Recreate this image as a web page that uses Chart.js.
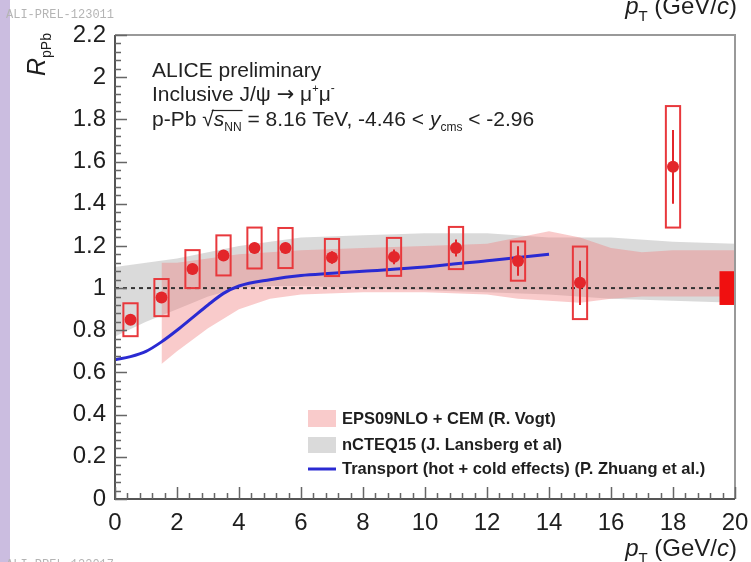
<!DOCTYPE html>
<html>
<head>
<meta charset="utf-8">
<script src="https://cdn.jsdelivr.net/npm/chart.js@4.4.1/dist/chart.umd.min.js"></script>
<style>
  html, body { margin:0; padding:0; background:#fff; }
  canvas { display:block; }
</style>
</head>
<body>
<canvas id="chart" width="751" height="562"></canvas>
<script>
// J/psi R_pPb vs pT, p-Pb 8.16 TeV, backward rapidity
const ptBins   = [0.5, 1.5, 2.5, 3.5, 4.5, 5.5, 7, 9, 11, 13, 15, 18];
const rpPb     = [0.85, 0.955, 1.09, 1.155, 1.19, 1.19, 1.145, 1.148, 1.19, 1.128, 1.025, 1.575];
const statErr  = [0.025, 0.025, 0.025, 0.025, 0.025, 0.025, 0.03, 0.035, 0.04, 0.07, 0.105, 0.175];
const sysErr   = [0.078, 0.088, 0.09, 0.095, 0.097, 0.095, 0.088, 0.09, 0.1, 0.093, 0.172, 0.288];
const globalSys = 0.08;

// EPS09NLO + CEM band
const epsPt   = [1.5, 2, 3, 4, 5, 6, 8, 10, 12, 13, 14, 15, 16, 17, 18, 20];
const epsHigh = [1.12, 1.12, 1.14, 1.16, 1.17, 1.18, 1.19, 1.2, 1.21, 1.24, 1.27, 1.24, 1.19, 1.17, 1.18, 1.18];
const epsLow  = [0.64, 0.7, 0.81, 0.9, 0.95, 0.97, 0.98, 0.98, 0.97, 0.95, 0.94, 0.93, 0.95, 0.96, 0.96, 0.96];

// nCTEQ15 band
const ncteqPt   = [0, 1, 2, 3, 4, 5, 6, 8, 10, 12, 14, 16, 18, 20];
const ncteqHigh = [1.1, 1.12, 1.14, 1.17, 1.2, 1.22, 1.24, 1.25, 1.26, 1.26, 1.24, 1.24, 1.22, 1.21];
const ncteqLow  = [0.77, 0.84, 0.9, 0.96, 1.0, 1.01, 1.01, 1.0, 0.99, 0.98, 0.97, 0.95, 0.94, 0.93];

// transport model
const transportPt = [0, 0.5, 1, 1.5, 2, 2.5, 3, 3.5, 4, 5, 6, 7, 8, 10, 12, 14];
const transportR  = [0.66, 0.675, 0.7, 0.745, 0.8, 0.86, 0.92, 0.975, 1.01, 1.04, 1.06, 1.07, 1.08, 1.1, 1.13, 1.16];

const legendLabels = ["EPS09NLO + CEM (R. Vogt)", "nCTEQ15 (J. Lansberg et al)", "Transport (hot + cold effects) (P. Zhuang et al.)"];

const FF = '"Liberation Sans", Arial, Helvetica, sans-serif';
const RED = "#e3262b";
const PINK = "rgba(240,125,125,0.4)";
const GRAY = "rgba(205,205,205,0.75)";
const BLUE = "#2a2ad2";

const pts = (xs, ys) => xs.map((x, i) => ({ x, y: ys[i] }));

// draw a row of text pieces with different fonts / offsets
function runs(ctx, x, y, parts) {
  for (const p of parts) {
    ctx.font = p.f;
    ctx.fillText(p.t, x, y + (p.dy || 0));
    x += ctx.measureText(p.t).width;
  }
  return x;
}
function runsWidth(ctx, parts) {
  let w = 0;
  for (const p of parts) { ctx.font = p.f; w += ctx.measureText(p.t).width; }
  return w;
}

function xTitleParts() {
  return [
    { t: "p", f: `italic 24px ${FF}` },
    { t: "T", f: `15px ${FF}`, dy: 7 },
    { t: " (GeV/", f: `24px ${FF}` },
    { t: "c", f: `italic 24px ${FF}` },
    { t: ")", f: `24px ${FF}` }
  ];
}

const rootStyle = {
  id: "rootStyle",
  beforeDraw(chart) {
    const ctx = chart.ctx;
    ctx.save();
    ctx.fillStyle = "#fff";
    ctx.fillRect(0, 0, chart.width, chart.height);
    ctx.fillStyle = "#cbbde0";
    ctx.fillRect(0, 0, 10, chart.height);
    ctx.restore();
  },
  afterDatasetsDraw(chart) {
    const ctx = chart.ctx, xs = chart.scales.x, ys = chart.scales.y;
    const hw = 0.23;
    ctx.save();
    // statistical bars
    ctx.strokeStyle = RED;
    ctx.lineWidth = 2;
    ptBins.forEach((pt, i) => {
      const px = xs.getPixelForValue(pt);
      ctx.beginPath();
      ctx.moveTo(px, ys.getPixelForValue(rpPb[i] + statErr[i]));
      ctx.lineTo(px, ys.getPixelForValue(rpPb[i] - statErr[i]));
      ctx.stroke();
    });
    // systematic boxes
    ctx.strokeStyle = "#e8383c";
    ptBins.forEach((pt, i) => {
      const x0 = xs.getPixelForValue(pt - hw), x1 = xs.getPixelForValue(pt + hw);
      const y0 = ys.getPixelForValue(rpPb[i] + sysErr[i]), y1 = ys.getPixelForValue(rpPb[i] - sysErr[i]);
      ctx.strokeRect(x0, y0, x1 - x0, y1 - y0);
    });
    // global uncertainty box
    ctx.fillStyle = "#f01010";
    const gx0 = xs.getPixelForValue(19.5), gx1 = xs.getPixelForValue(20);
    const gy0 = ys.getPixelForValue(1 + globalSys), gy1 = ys.getPixelForValue(1 - globalSys);
    ctx.fillRect(gx0, gy0, gx1 - gx0, gy1 - gy0);
    ctx.restore();
  },
  afterDraw(chart) {
    const ctx = chart.ctx, xs = chart.scales.x, ys = chart.scales.y;
    const a = chart.chartArea;
    ctx.save();
    // frame
    ctx.lineWidth = 2;
    ctx.strokeStyle = "#999";
    ctx.beginPath();
    ctx.moveTo(a.left, a.top); ctx.lineTo(a.right, a.top); ctx.lineTo(a.right, a.bottom);
    ctx.stroke();
    ctx.strokeStyle = "#555";
    ctx.beginPath();
    ctx.moveTo(a.left, a.top); ctx.lineTo(a.left, a.bottom); ctx.lineTo(a.right, a.bottom);
    ctx.stroke();
    // inner ticks
    ctx.lineWidth = 1.5;
    ctx.strokeStyle = "#666";
    ctx.beginPath();
    for (let i = 0; i <= 55; i++) {
      const py = Math.round(ys.getPixelForValue(i * 0.04)) + 0.5;
      const len = i % 5 === 0 ? 12 : 6;
      ctx.moveTo(a.left, py); ctx.lineTo(a.left + len, py);
    }
    for (let i = 0; i <= 50; i++) {
      const px = Math.round(xs.getPixelForValue(i * 0.4)) + 0.5;
      const len = i % 5 === 0 ? 12 : 6;
      ctx.moveTo(px, a.bottom); ctx.lineTo(px, a.bottom - len);
    }
    ctx.stroke();

    ctx.fillStyle = "#1e1e1e";
    ctx.textBaseline = "alphabetic";
    ctx.textAlign = "left";
    // x title (bottom) and the cut-off copy at the top
    const xp = xTitleParts();
    const xw = runsWidth(ctx, xp);
    runs(ctx, 737 - xw, 556, xp);
    runs(ctx, 737 - xw, 14, xp);
    // y title
    ctx.save();
    ctx.translate(45, 76);
    ctx.rotate(-Math.PI / 2);
    runs(ctx, 0, 0, [
      { t: "R", f: `italic 25px ${FF}` },
      { t: "pPb", f: `14px ${FF}`, dy: 6 }
    ]);
    ctx.restore();

    // header text
    ctx.fillStyle = "#222";
    runs(ctx, 152, 77, [{ t: "ALICE preliminary", f: `21px ${FF}` }]);
    runs(ctx, 152, 101, [
      { t: "Inclusive J/ψ ", f: `21px ${FF}` },
      { t: "→", f: `21px "DejaVu Sans", sans-serif` },
      { t: " μ", f: `21px ${FF}` },
      { t: "+", f: `11px ${FF}`, dy: -9 },
      { t: "μ", f: `21px ${FF}` },
      { t: "-", f: `12px ${FF}`, dy: -9 }
    ]);
    let x = runs(ctx, 152, 126, [{ t: "p-Pb ", f: `21px ${FF}` }, { t: "√", f: `21px ${FF}` }]);
    const ovStart = x - 2;
    x = runs(ctx, x, 126, [
      { t: "s", f: `italic 21px ${FF}` },
      { t: "NN", f: `12px ${FF}`, dy: 5 }
    ]);
    ctx.strokeStyle = "#222";
    ctx.lineWidth = 1.2;
    ctx.beginPath();
    ctx.moveTo(ovStart, 110.5); ctx.lineTo(x + 1, 110.5);
    ctx.stroke();
    runs(ctx, x, 126, [
      { t: " = 8.16 TeV, -4.46 < ", f: `21px ${FF}` },
      { t: "y", f: `italic 21px ${FF}` },
      { t: "cms", f: `12px ${FF}`, dy: 5 },
      { t: " < -2.96", f: `21px ${FF}` }
    ]);

    // legend
    const lx = 308, lw = 28;
    ctx.fillStyle = PINK; ctx.fillRect(lx, 410, lw, 17);
    ctx.fillStyle = GRAY; ctx.fillRect(lx, 437, lw, 16);
    ctx.strokeStyle = BLUE; ctx.lineWidth = 3;
    ctx.beginPath(); ctx.moveTo(lx, 469); ctx.lineTo(lx + lw, 469); ctx.stroke();
    ctx.fillStyle = "#1e1e1e";
    ctx.font = `bold 16.5px ${FF}`;
    ctx.textBaseline = "middle";
    ctx.fillText(legendLabels[0], 342, 419);
    ctx.fillText(legendLabels[1], 342, 445);
    ctx.fillText(legendLabels[2], 342, 469);

    // watermarks
    ctx.textBaseline = "alphabetic";
    ctx.fillStyle = "#b4b4b4";
    ctx.font = `12px "Liberation Mono", monospace`;
    ctx.fillText("ALI-PREL-123011", 6, 18);
    ctx.fillText("ALI-PREL-123017", 6, 568);
    ctx.restore();
  }
};

new Chart(document.getElementById("chart"), {
  type: "scatter",
  data: {
    datasets: [
      {
        label: "ALICE",
        data: pts(ptBins, rpPb),
        backgroundColor: RED,
        borderWidth: 0,
        pointRadius: 6,
        order: 0
      },
      {
        label: legendLabels[2],
        type: "line",
        data: pts(transportPt, transportR),
        borderColor: BLUE,
        borderWidth: 3,
        pointRadius: 0,
        cubicInterpolationMode: "monotone",
        fill: false,
        order: 1
      },
      {
        label: "unity",
        type: "line",
        data: [{ x: 0, y: 1 }, { x: 20, y: 1 }],
        borderColor: "#333",
        borderWidth: 2,
        borderDash: [4, 4],
        pointRadius: 0,
        fill: false,
        order: 2
      },
      {
        label: legendLabels[0],
        type: "line",
        data: pts(epsPt, epsHigh),
        borderWidth: 0,
        pointRadius: 0,
        backgroundColor: PINK,
        fill: 4,
        order: 3
      },
      {
        label: "eps low",
        type: "line",
        data: pts(epsPt, epsLow),
        borderWidth: 0,
        pointRadius: 0,
        fill: false,
        order: 4
      },
      {
        label: legendLabels[1],
        type: "line",
        data: pts(ncteqPt, ncteqHigh),
        borderWidth: 0,
        pointRadius: 0,
        backgroundColor: GRAY,
        fill: 6,
        order: 5
      },
      {
        label: "ncteq low",
        type: "line",
        data: pts(ncteqPt, ncteqLow),
        borderWidth: 0,
        pointRadius: 0,
        fill: false,
        order: 6
      }
    ]
  },
  options: {
    responsive: false,
    animation: false,
    layout: { padding: { left: 0, top: 35, right: 16, bottom: 0 } },
    plugins: { legend: { display: false }, tooltip: { enabled: false } },
    scales: {
      x: {
        type: "linear",
        min: 0,
        max: 20,
        grid: { display: false },
        border: { display: false },
        ticks: {
          stepSize: 2,
          maxRotation: 0,
          autoSkip: false,
          padding: 2,
          color: "#1e1e1e",
          font: { family: FF, size: 24 }
        },
        afterFit: s => { s.height = 63; }
      },
      y: {
        min: 0,
        max: 2.2,
        grid: { display: false },
        border: { display: false },
        ticks: {
          stepSize: 0.2,
          padding: 1,
          color: "#1e1e1e",
          font: { family: FF, size: 24 },
          callback: v => String(parseFloat(v.toFixed(1)))
        },
        afterFit: s => { s.width = 115; }
      }
    }
  },
  plugins: [rootStyle]
});
</script>
</body>
</html>
